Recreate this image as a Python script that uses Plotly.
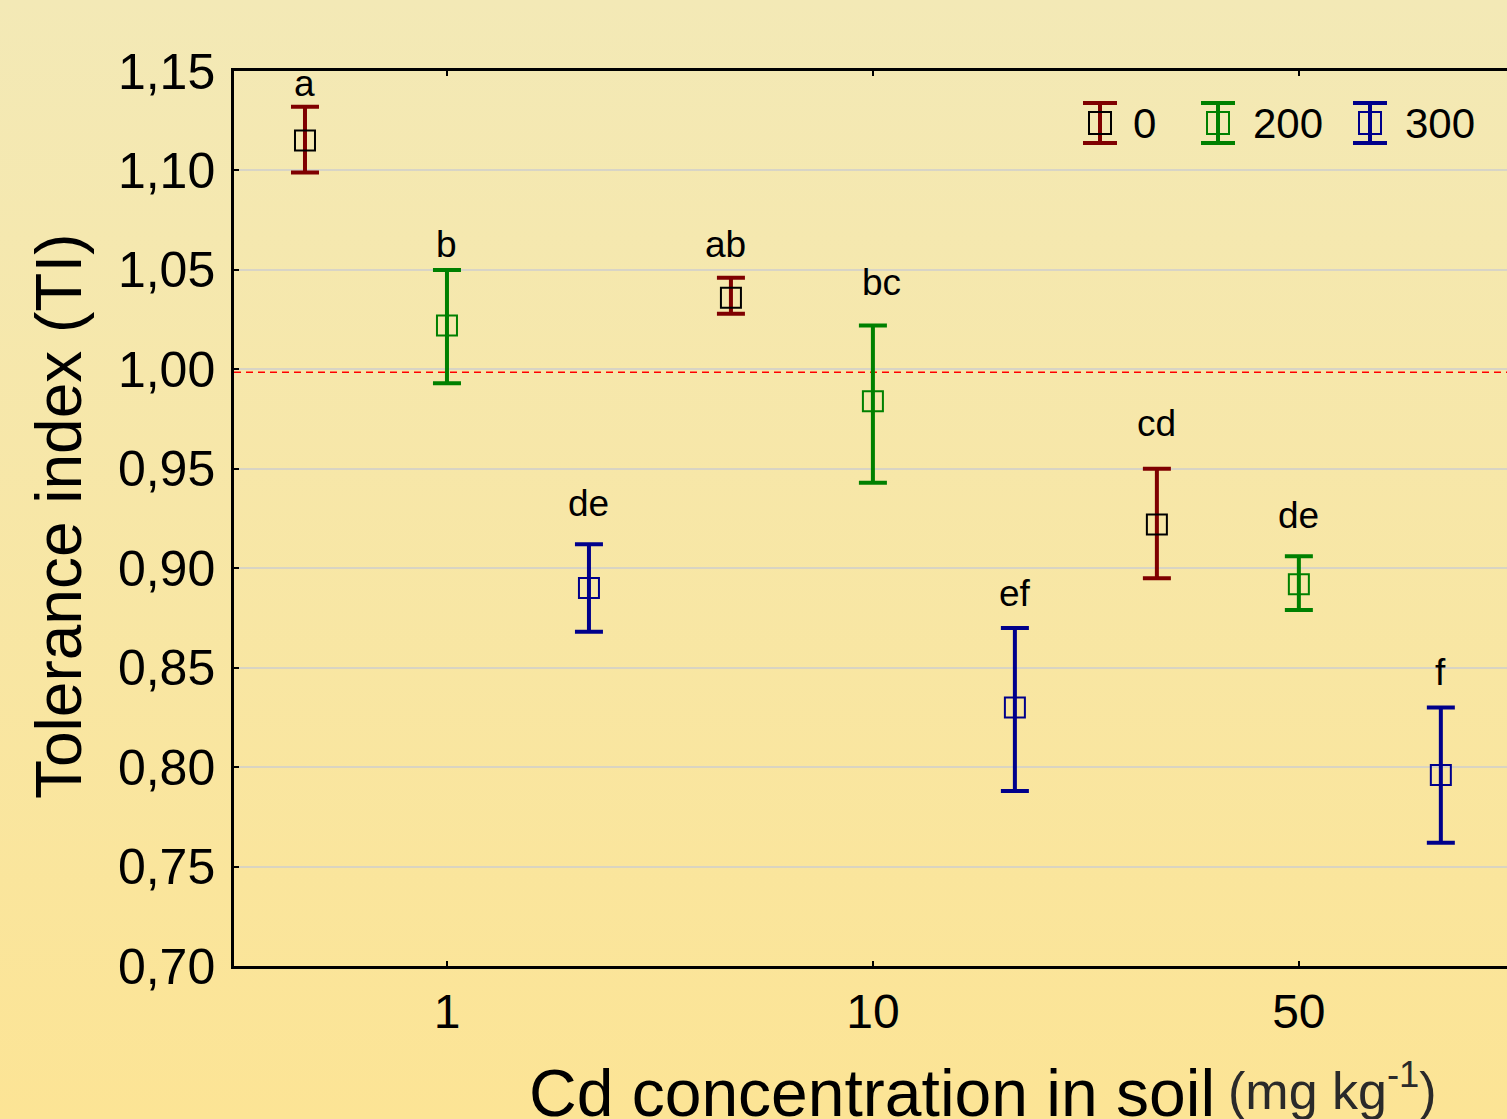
import base64
import plotly.graph_objects as go

# ---------------- data ----------------
conc_labels = ["1", "10", "50"]          # Cd concentration in soil (mg kg-1)
series_names = ["0", "200", "300"]

mean_0 = [1.115, 1.036, 0.922]
upper_0 = [1.132, 1.046, 0.950]
lower_0 = [1.099, 1.028, 0.895]
letters_0 = ["a", "ab", "cd"]

mean_200 = [1.022, 0.984, 0.892]
upper_200 = [1.050, 1.022, 0.906]
lower_200 = [0.993, 0.943, 0.879]
letters_200 = ["b", "bc", "de"]

mean_300 = [0.890, 0.830, 0.796]
upper_300 = [0.912, 0.870, 0.830]
lower_300 = [0.868, 0.788, 0.762]
letters_300 = ["de", "ef", "f"]

reference_ti = 0.9985

# ---------------- style ----------------
W, H = 1507, 1119
ML, MR, MT, MB = 234, 0, 71, 153
PW, PH = W - ML - MR, H - MT - MB

bar_colors = ["#7F0000", "#008000", "#00008B"]
marker_colors = ["#000000", "#008000", "#00008B"]
label_gap_px = [[1, 11, 23], [3, 21, 18], [18, 12, 12]]
label_xshift = [[0, -5, 0], [0, 9, 0], [0, 0, 0]]
FONT = "Arial, 'Liberation Sans', sans-serif"


def px(xp):
    return (xp - ML) / PW


def py(yp):
    return (H - MB - yp) / PH


series = [
    (mean_0, upper_0, lower_0, letters_0),
    (mean_200, upper_200, lower_200, letters_200),
    (mean_300, upper_300, lower_300, letters_300),
]
n_groups = len(series_names)

fig = go.Figure()
annotations = []
for gi, (m, up, lo, lets) in enumerate(series):
    xs = [ci * n_groups + gi for ci in range(len(conc_labels))]
    fig.add_trace(go.Scatter(
        x=xs, y=m, mode="markers", name=series_names[gi], showlegend=False,
        marker=dict(symbol="square-open", size=20, color=marker_colors[gi],
                    line=dict(width=2, color=marker_colors[gi])),
        error_y=dict(type="data", symmetric=False,
                     array=[u - v for u, v in zip(up, m)],
                     arrayminus=[v - l for v, l in zip(m, lo)],
                     color=bar_colors[gi], thickness=4, width=14),
    ))
    for k, (xv, uv, t) in enumerate(zip(xs, up, lets)):
        annotations.append(dict(
            x=xv, y=uv, xref="x", yref="y", text=t, showarrow=False,
            xanchor="center", yanchor="bottom",
            yshift=label_gap_px[gi][k], xshift=label_xshift[gi][k],
            font=dict(family=FONT, size=37, color="black")))

# ---------------- custom legend (error-bar icons) ----------------
shapes = []
leg_icon_x = [1100, 1218, 1370]
leg_text_x = [1131, 1251, 1403]
cap_top, cap_bot, leg_mid = 103, 143, 123
for gi in range(n_groups):
    cx = leg_icon_x[gi]
    c = bar_colors[gi]
    shapes.append(dict(type="line", xref="paper", yref="paper",
                       x0=px(cx), x1=px(cx), y0=py(cap_top), y1=py(cap_bot),
                       line=dict(color=c, width=4)))
    for cy in (cap_top, cap_bot):
        shapes.append(dict(type="line", xref="paper", yref="paper",
                           x0=px(cx - 17), x1=px(cx + 17), y0=py(cy), y1=py(cy),
                           line=dict(color=c, width=4)))
    shapes.append(dict(type="rect", xref="paper", yref="paper",
                       x0=px(cx - 11), x1=px(cx + 11), y0=py(leg_mid - 11), y1=py(leg_mid + 11),
                       line=dict(color=marker_colors[gi], width=2), fillcolor="rgba(0,0,0,0)"))
    annotations.append(dict(x=px(leg_text_x[gi]), y=py(leg_mid), xref="paper", yref="paper",
                            text=series_names[gi], showarrow=False, xanchor="left", yanchor="middle",
                            font=dict(family=FONT, size=42, color="black")))

# reference line TI = 1
shapes.append(dict(type="line", xref="paper", yref="y", x0=0, x1=1,
                   y0=reference_ti, y1=reference_ti, layer="below",
                   line=dict(color="#FF0000", width=1.5, dash="7px,5px")))

# axis titles
annotations.append(dict(x=px(59), y=py(516), xref="paper", yref="paper",
                        text="Tolerance index (TI)", textangle=-90, showarrow=False,
                        xanchor="center", yanchor="middle",
                        font=dict(family=FONT, size=64, color="black")))
annotations.append(dict(x=px(1217), y=py(1054), xref="paper", yref="paper",
                        text="Cd concentration in soil", showarrow=False,
                        xanchor="right", yanchor="top",
                        font=dict(family=FONT, size=66, color="black")))
annotations.append(dict(x=px(1226), y=py(1052), xref="paper", yref="paper",
                        text="(mg kg<sup>-1</sup>)", showarrow=False,
                        xanchor="left", yanchor="top",
                        font=dict(family=FONT, size=52, color="#2A2A2A")))

# gradient background
svg = ('<svg xmlns="http://www.w3.org/2000/svg" width="100" height="100" preserveAspectRatio="none">'
       '<defs><linearGradient id="g" x1="0" y1="0" x2="0" y2="1">'
       '<stop offset="0" stop-color="#F3E9B6"/><stop offset="1" stop-color="#FCE495"/>'
       '</linearGradient></defs><rect width="100" height="100" fill="url(#g)"/></svg>')
bg_src = "data:image/svg+xml;base64," + base64.b64encode(svg.encode()).decode()

fig.update_layout(
    width=W, height=H,
    margin=dict(l=ML, r=MR, t=MT, b=MB, pad=0),
    paper_bgcolor="#F8E7A6", plot_bgcolor="rgba(0,0,0,0)",
    separators=", ",
    showlegend=False,
    shapes=shapes, annotations=annotations,
    images=[dict(source=bg_src, xref="paper", yref="paper",
                 x=-ML / PW, y=1 + MT / PH, sizex=W / PW, sizey=H / PH,
                 sizing="stretch", xanchor="left", yanchor="top", layer="below")],
    font=dict(family=FONT, color="black"),
)
fig.update_xaxes(
    range=[-0.5, 8.466],
    tickmode="array",
    tickvals=[ci * n_groups + 1 for ci in range(len(conc_labels))],
    ticktext=conc_labels,
    ticks="inside", ticklen=5, tickwidth=2, tickcolor="black",
    showline=True, linecolor="black", linewidth=2.5, mirror="ticks",
    showgrid=False, zeroline=False,
    tickfont=dict(family=FONT, size=48, color="black"),
    ticklabelstandoff=2,
)
fig.update_yaxes(
    range=[0.70, 1.15], dtick=0.05, tick0=0.70, tickformat=".2f",
    ticks="inside", ticklen=5, tickwidth=2, tickcolor="black",
    showline=True, linecolor="black", linewidth=2.5, mirror=False,
    showgrid=True, gridcolor="rgba(205,205,205,0.75)", gridwidth=1.5, zeroline=False,
    tickfont=dict(family=FONT, size=50, color="black"),
    ticklabelstandoff=6,
)

fig.write_html("out.html", config={"displayModeBar": False},
               post_script="document.body.style.margin='0';document.body.style.overflow='hidden';")
